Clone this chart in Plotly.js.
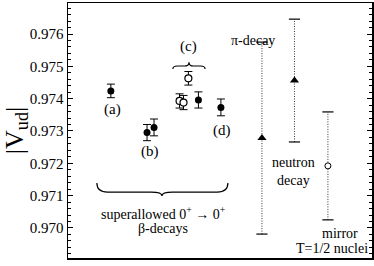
<!DOCTYPE html>
<html><head><meta charset="utf-8">
<script src="https://cdn.plot.ly/plotly-3.0.1.min.js"></script>
<style>html,body{margin:0;padding:0;background:#fff}#plot{width:374px;height:266px}</style>
</head><body><div id="plot"></div>
<script>
// Superallowed 0+ -> 0+ (filled symbols)
const filledX = [1.41, 2.60, 2.83, 4.29, 5.03];
const filledV = [0.97424, 0.97295, 0.97311, 0.97396, 0.97373];
const filledE = [0.00021, 0.00025, 0.00026, 0.00025, 0.00026];
// Superallowed (open symbols, group c)
const openX = [3.67, 3.80, 3.96];
const openV = [0.97393, 0.97388, 0.97463];
const openE = [0.00022, 0.00022, 0.00021];
// Other decays
const otherNames = ["π-decay", "neutron decay", "mirror T=1/2 nuclei"];
const otherX = [6.38, 7.45, 8.55];
const otherV = [0.97278, 0.97456, 0.97192];
const otherE = [0.00297, 0.00190, 0.00167];
const otherSymbol = ["triangle-up", "triangle-up", "circle-open"];
const yTicks = [0.970, 0.971, 0.972, 0.973, 0.974, 0.975, 0.976];

const font = {family: "Liberation Serif, Times New Roman, serif", color: "#000"};
const traces = [];

traces.push({
  x: filledX, y: filledV, type: "scatter", mode: "markers",
  marker: {symbol: "circle", size: 7, color: "#000"},
  error_y: {type: "data", array: filledE, visible: true, color: "#000", thickness: 1, width: 4},
  showlegend: false, hoverinfo: "skip"
});
traces.push({
  x: openX, y: openV, type: "scatter", mode: "markers",
  marker: {symbol: "circle", size: 7, color: "#fff", line: {color: "#000", width: 1.2}},
  error_y: {type: "data", array: openE, visible: true, color: "#000", thickness: 1, width: 4},
  showlegend: false, hoverinfo: "skip"
});
for (let i = 0; i < otherX.length; i++) {
  const lo = otherV[i] - otherE[i], hi = otherV[i] + otherE[i];
  traces.push({
    x: [otherX[i], otherX[i]], y: [lo, hi], type: "scatter", mode: "lines",
    line: {color: "#333", width: 1, dash: "1px,1.5px"}, showlegend: false, hoverinfo: "skip"
  });
  traces.push({
    x: [otherX[i], otherX[i]], y: [lo, hi], type: "scatter", mode: "markers",
    marker: {symbol: "line-ew", size: 8, line: {color: "#000", width: 1.2}},
    showlegend: false, hoverinfo: "skip"
  });
  const open = otherSymbol[i].indexOf("open") >= 0;
  traces.push({
    x: [otherX[i]], y: [otherV[i]], type: "scatter", mode: "markers",
    marker: open ? {symbol: "circle", size: 6, color: "#fff", line: {color: "#000", width: 1}}
                 : {symbol: otherSymbol[i], size: 8, color: "#000"},
    showlegend: false, hoverinfo: "skip", name: otherNames[i]
  });
}

function brace(x0, x1, xm, yEnd, yMid, yTip, r) {
  return `M ${x0},${yEnd} Q ${x0},${yMid} ${x0 + r},${yMid} L ${xm - r},${yMid} Q ${xm},${yMid} ${xm},${yTip} ` +
         `Q ${xm},${yMid} ${xm + r},${yMid} L ${x1 - r},${yMid} Q ${x1},${yMid} ${x1},${yEnd}`;
}

const shapes = [
  {type: "path", xref: "x", yref: "y", path: brace(0.95, 5.26, 3.09, 0.97139, 0.97111, 0.97099, 0.35), line: {color: "#000", width: 1.2}},
  {type: "path", xref: "x", yref: "y", path: brace(3.45, 4.51, 3.98, 0.97492, 0.97501, 0.97513, 0.15), line: {color: "#000", width: 1.2}}
];

function ann(text, x, y, size) {
  return {text: text, x: x, y: y, xref: "x", yref: "y", showarrow: false,
          font: Object.assign({}, font, {size: size}), xanchor: "center", yanchor: "middle"};
}
const annotations = [
  ann("(a)", 1.45, 0.97365, 15),
  ann("(b)", 2.70, 0.97235, 15),
  ann("(c)", 3.95, 0.97560, 15),
  ann("(d)", 5.07, 0.97303, 15),
  ann("π-decay", 6.09, 0.97581, 14),
  ann("neutron", 7.43, 0.97201, 14),
  ann("decay", 7.43, 0.97148, 14),
  ann("mirror", 8.95, 0.96984, 14),
  ann("T=1/2 nuclei", 8.70, 0.96935, 14),
  ann("superallowed 0<sup>+</sup> → 0<sup>+</sup>", 3.13, 0.97046, 14),
  ann("β-decays", 3.13, 0.96997, 14)
];

const layout = {
  width: 374, height: 266,
  margin: {l: 68, r: 2, t: 3, b: 8},
  paper_bgcolor: "#fff", plot_bgcolor: "#fff",
  font: font,
  xaxis: {range: [0, 10], showline: true, linecolor: "#000", linewidth: 1.5, mirror: true,
          showticklabels: false, ticks: "", showgrid: false, zeroline: false},
  yaxis: {range: [0.96907, 0.97696], showline: true, linecolor: "#000", linewidth: 1.5, mirror: "ticks",
          tickvals: yTicks, ticktext: yTicks.map(v => v.toFixed(3)),
          ticks: "inside", ticklen: 5, tickwidth: 1, tickcolor: "#000",
          minor: {dtick: 0.0002, ticks: "inside", ticklen: 3, tickwidth: 1, tickcolor: "#000", showgrid: false},
          tickfont: Object.assign({}, font, {size: 15}),
          showgrid: false, zeroline: false,
          title: {text: "|V<sub>ud</sub>|", font: Object.assign({}, font, {size: 26}), standoff: 0}},
  shapes: shapes,
  annotations: annotations
};

Plotly.newPlot("plot", traces, layout, {displayModeBar: false, staticPlot: true});
</script></body></html>
